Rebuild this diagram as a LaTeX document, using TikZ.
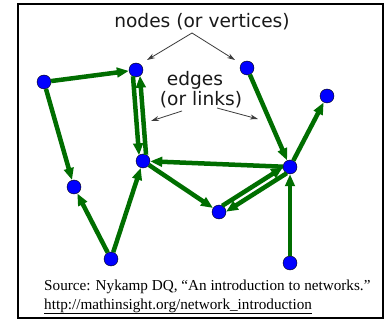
\documentclass[tikz,border=0pt]{standalone}
\usepackage{fontspec}
\setmainfont{Liberation Serif}
\newfontfamily\labelfont{DejaVu Sans}
\usetikzlibrary{arrows.meta,calc}
\definecolor{egreen}{RGB}{0,110,0}
\definecolor{lgray}{RGB}{60,60,60}
\begin{document}
\begin{tikzpicture}[x=1pt,y=-1pt,
  vert/.style={circle,fill=blue,draw=black,line width=0.4pt,minimum size=14pt,inner sep=0pt},
  edge/.style={draw=egreen,line width=4.5pt,-{Triangle[length=12pt,width=9.5pt]}},
  dedge/.style={edge,shorten <=6pt,shorten >=6pt},
  labtext/.style={font=\labelfont\fontsize{18.6}{22}\selectfont,text=black!90,inner sep=0pt},
  labarrow/.style={draw=lgray,line width=0.8pt,-{Stealth[length=8pt,width=5pt]}},
  srctext/.style={font=\fontsize{15.2}{17}\selectfont,text=black,inner sep=0pt,anchor=base west}]
\useasboundingbox (0,0) rectangle (385,320);
\fill[white] (0,0) rectangle (385,320);
\draw[line width=2pt] (18,4) rectangle (383,318);
% vertices
\node[vert] (A) at (44,82) {};
\node[vert] (B) at (136,70) {};
\node[vert] (C) at (247,68) {};
\node[vert] (D) at (327,96) {};
\node[vert] (E) at (143,161) {};
\node[vert] (F) at (290,167) {};
\node[vert] (G) at (74,187) {};
\node[vert] (H) at (219,212) {};
\node[vert] (I) at (111,259) {};
\node[vert] (J) at (290,263) {};
% edges
\draw[edge] (A) -- (B);
\draw[edge] (A) -- (G);
\draw[edge] (C) -- (F);
\draw[edge] (F) -- (D);
\draw[edge] (F) -- (E);
\draw[edge] (E) -- (H);
\draw[edge] (I) -- (G);
\draw[edge] (I) -- (E);
\draw[edge] (J) -- (F);
\draw[dedge] ($(B)!3.5pt!-90:(E)$) -- ($(E)!3.5pt!90:(B)$);
\draw[dedge] ($(E)!3.5pt!-90:(B)$) -- ($(B)!3.5pt!90:(E)$);
\draw[dedge] ($(H)!3.5pt!90:(F)$) -- ($(F)!3.5pt!-90:(H)$);
\draw[dedge] ($(F)!3.5pt!90:(H)$) -- ($(H)!3.5pt!-90:(F)$);
% labels
\node[labtext] (nlab) at (202,22) {nodes (or vertices)};
\node[labtext] (elab1) at (195,80) {edges};
\node[labtext] (elab2) at (201,100) {(or links)};
\coordinate (n1) at (147,60);
\coordinate (n2) at (235,60);
\coordinate (e1) at (151,121);
\coordinate (e2) at (258,119);
\draw[labarrow] (192,33) -- (n1);
\draw[labarrow] (192,33) -- (n2);
\draw[labarrow] (182,111) -- (e1);
\draw[labarrow] (217,108) -- (e2);
% source
\node[srctext] (src1) at (44,290) {Source: Nykamp DQ, “An introduction to networks.”};
\node[srctext] (src2) at (44,309) {\underline{http://mathinsight.org/network\_introduction}};
\end{tikzpicture}
\end{document}
